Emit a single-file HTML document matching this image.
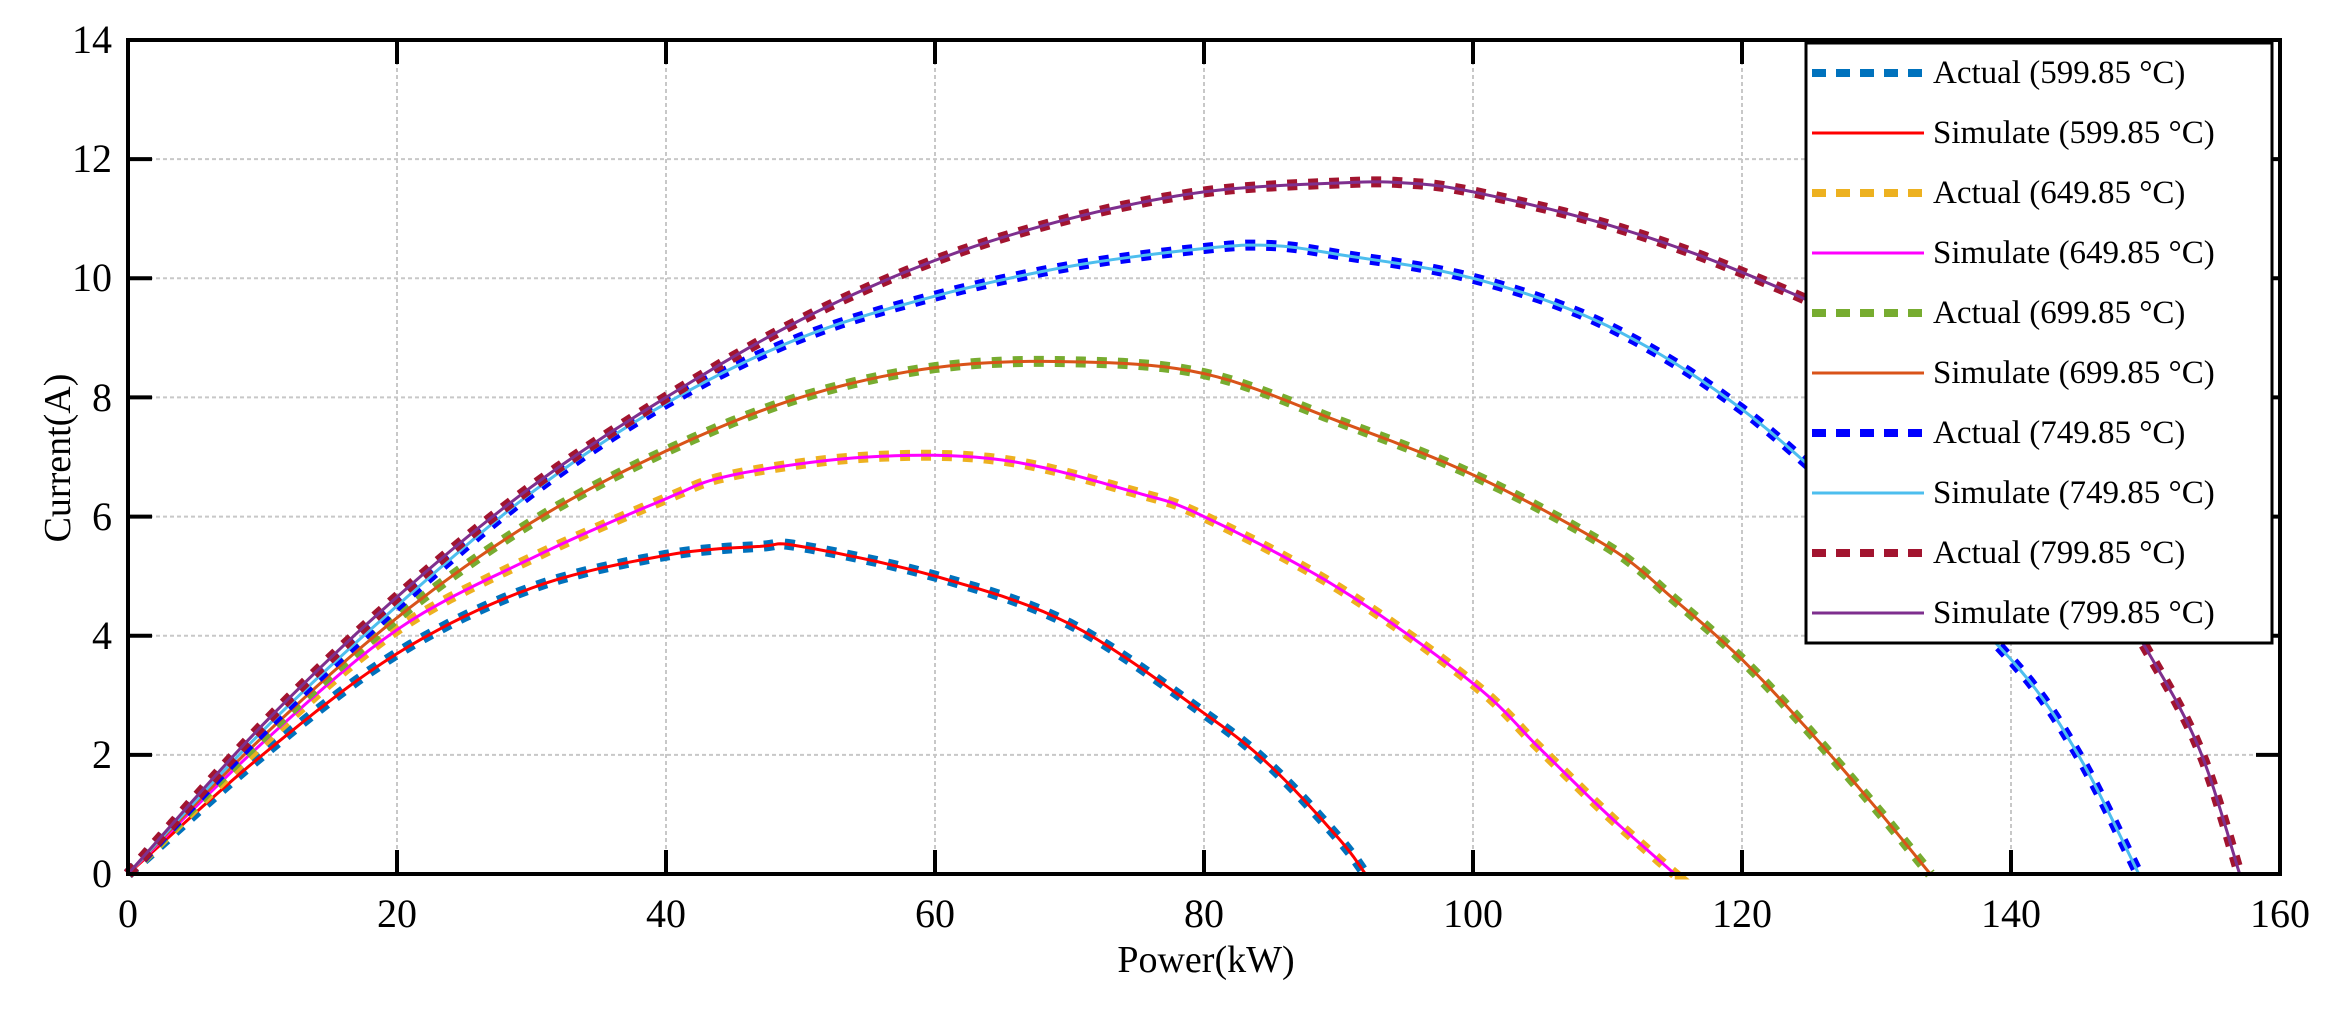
<!DOCTYPE html>
<html><head><meta charset="utf-8"><style>
html,body{margin:0;padding:0;background:#fff;}
svg text{font-family:"Liberation Serif",serif;fill:#000;}
</style></head><body>
<svg id="s" width="2346" height="1005" viewBox="0 0 2346 1005" xmlns="http://www.w3.org/2000/svg">
<rect width="2346" height="1005" fill="#fff"/>
<g id="grid" stroke="#c8c8c8" stroke-width="2" stroke-dasharray="4 3"></g>
<g id="curves"></g>
<g id="axes" stroke="#000" stroke-width="4" fill="none"></g>
<g font-size="40" text-anchor="end">
<text x="112" y="887">0</text><text x="112" y="768">2</text><text x="112" y="649">4</text><text x="112" y="530">6</text><text x="112" y="411">8</text><text x="112" y="291">10</text><text x="112" y="172">12</text><text x="112" y="53">14</text>
</g>
<g font-size="40" text-anchor="middle">
<text x="128" y="927">0</text><text x="397" y="927">20</text><text x="666" y="927">40</text><text x="935" y="927">60</text><text x="1204" y="927">80</text><text x="1473" y="927">100</text><text x="1742" y="927">120</text><text x="2011" y="927">140</text><text x="2280" y="927">160</text>
</g>
<text x="1206" y="972" font-size="38" text-anchor="middle">Power(kW)</text>
<text x="0" y="0" font-size="38" text-anchor="middle" transform="translate(70,458) rotate(-90)">Current(A)</text>
<g id="legend"></g>
</svg>
<script>
var L=128,R=2280,T=40,B=874,NS="http://www.w3.org/2000/svg";
function X(v){return L+(R-L)*v/160}function Y(v){return B-(B-T)*v/14}
function el(p,t,a){var e=document.createElementNS(NS,t);for(var k in a)e.setAttribute(k,a[k]);p.appendChild(e);return e}
var g=document.getElementById('grid');
for(var i=1;i<8;i++)el(g,'line',{x1:X(i*20),x2:X(i*20),y1:T,y2:B});
for(var i=1;i<7;i++)el(g,'line',{x1:L,x2:R,y1:Y(i*2),y2:Y(i*2)});
var a=document.getElementById('axes');
el(a,'rect',{x:L,y:T,width:R-L,height:B-T});
for(var i=1;i<8;i++){el(a,'line',{x1:X(i*20),x2:X(i*20),y1:B,y2:B-24});el(a,'line',{x1:X(i*20),x2:X(i*20),y1:T,y2:T+24});}
for(var i=1;i<7;i++){el(a,'line',{x1:L,x2:L+24,y1:Y(i*2),y2:Y(i*2)});el(a,'line',{x1:R,x2:R-24,y1:Y(i*2),y2:Y(i*2)});}
var S=[
{a:'#0072BD',s:'#FF0000',p:[[0,0],[10,2.0],[20,3.7],[30,4.8],[40,5.35],[47,5.5],[50,5.5],[60,5.0],[70,4.2],[80,2.7],[85,1.8],[90,0.6],[92,0]]},
{a:'#EDB120',s:'#FF00FF',p:[[0,0],[10,2.2],[20,4.1],[30,5.3],[40,6.3],[45,6.7],[55,7.0],[65,6.95],[75,6.4],[80,6.0],[90,4.8],[100,3.2],[105,2.1],[110,1.0],[115,0]]},
{a:'#77AC30',s:'#D95319',p:[[0,0],[10,2.3],[20,4.3],[30,5.9],[40,7.1],[50,8.0],[60,8.5],[70,8.6],[80,8.4],[90,7.6],[100,6.7],[110,5.5],[115,4.6],[120,3.6],[125,2.4],[130,1.1],[134,0]]},
{a:'#0000FF',s:'#4DBEEE',p:[[0,0],[10,2.4],[20,4.5],[30,6.4],[40,7.9],[50,9.0],[60,9.7],[70,10.2],[80,10.5],[85,10.55],[90,10.4],[100,10.0],[110,9.2],[120,7.8],[130,5.8],[140,3.6],[145,2.0],[149.5,0]]},
{a:'#A2142F',s:'#7E2F8E',p:[[0,0],[10,2.5],[20,4.65],[30,6.5],[40,8.0],[50,9.3],[60,10.3],[70,11.0],[80,11.45],[90,11.6],[95,11.6],[100,11.45],[110,10.9],[120,10.1],[130,9.0],[140,7.1],[145,5.6],[150,3.8],[154,2.1],[157,0]]}];
function cr(p){var o=[];for(var i=0;i<p.length-1;i++){var p0=p[Math.max(0,i-1)],p1=p[i],p2=p[i+1],p3=p[Math.min(p.length-1,i+2)];
for(var t=0;t<1;t+=0.1){var t2=t*t,t3=t2*t;var f=function(k){return 0.5*((2*p1[k])+(-p0[k]+p2[k])*t+(2*p0[k]-5*p1[k]+4*p2[k]-p3[k])*t2+(-p0[k]+3*p1[k]-3*p2[k]+p3[k])*t3)};o.push(X(f(0)).toFixed(1)+','+Y(f(1)).toFixed(1));}}
var q=p[p.length-1];o.push(X(q[0])+','+Y(q[1]));return o.join(' ');}
var c=document.getElementById('curves');
S.forEach(function(s){var pts=cr(s.p);
el(c,'polyline',{points:pts,fill:'none',stroke:s.a,'stroke-width':11,'stroke-dasharray':'10 11'});
el(c,'polyline',{points:pts,fill:'none',stroke:s.s,'stroke-width':3});});
var lg=document.getElementById('legend');
el(lg,'rect',{x:1806,y:43,width:466,height:600,fill:'#fff',stroke:'#000','stroke-width':3});
var r=0;S.forEach(function(s){
 var y1=43+30+r*60;el(lg,'line',{x1:1812,x2:1924,y1:y1,y2:y1,stroke:s.a,'stroke-width':8,'stroke-dasharray':'14 10'});r++;
 var y2=43+30+r*60;el(lg,'line',{x1:1812,x2:1924,y1:y2,y2:y2,stroke:s.s,'stroke-width':3});r++;});
</script>
<div style="position:absolute;left:0;top:0;width:2346px;height:1005px;pointer-events:none;font-family:'Liberation Serif',serif;font-size:33px;color:#000;">
<div style="position:absolute;left:1933px;top:54px;line-height:38px">Actual (599.85 °C)</div>
<div style="position:absolute;left:1933px;top:114px;line-height:38px">Simulate (599.85 °C)</div>
<div style="position:absolute;left:1933px;top:174px;line-height:38px">Actual (649.85 °C)</div>
<div style="position:absolute;left:1933px;top:234px;line-height:38px">Simulate (649.85 °C)</div>
<div style="position:absolute;left:1933px;top:294px;line-height:38px">Actual (699.85 °C)</div>
<div style="position:absolute;left:1933px;top:354px;line-height:38px">Simulate (699.85 °C)</div>
<div style="position:absolute;left:1933px;top:414px;line-height:38px">Actual (749.85 °C)</div>
<div style="position:absolute;left:1933px;top:474px;line-height:38px">Simulate (749.85 °C)</div>
<div style="position:absolute;left:1933px;top:534px;line-height:38px">Actual (799.85 °C)</div>
<div style="position:absolute;left:1933px;top:594px;line-height:38px">Simulate (799.85 °C)</div>
</div>
</body></html>
